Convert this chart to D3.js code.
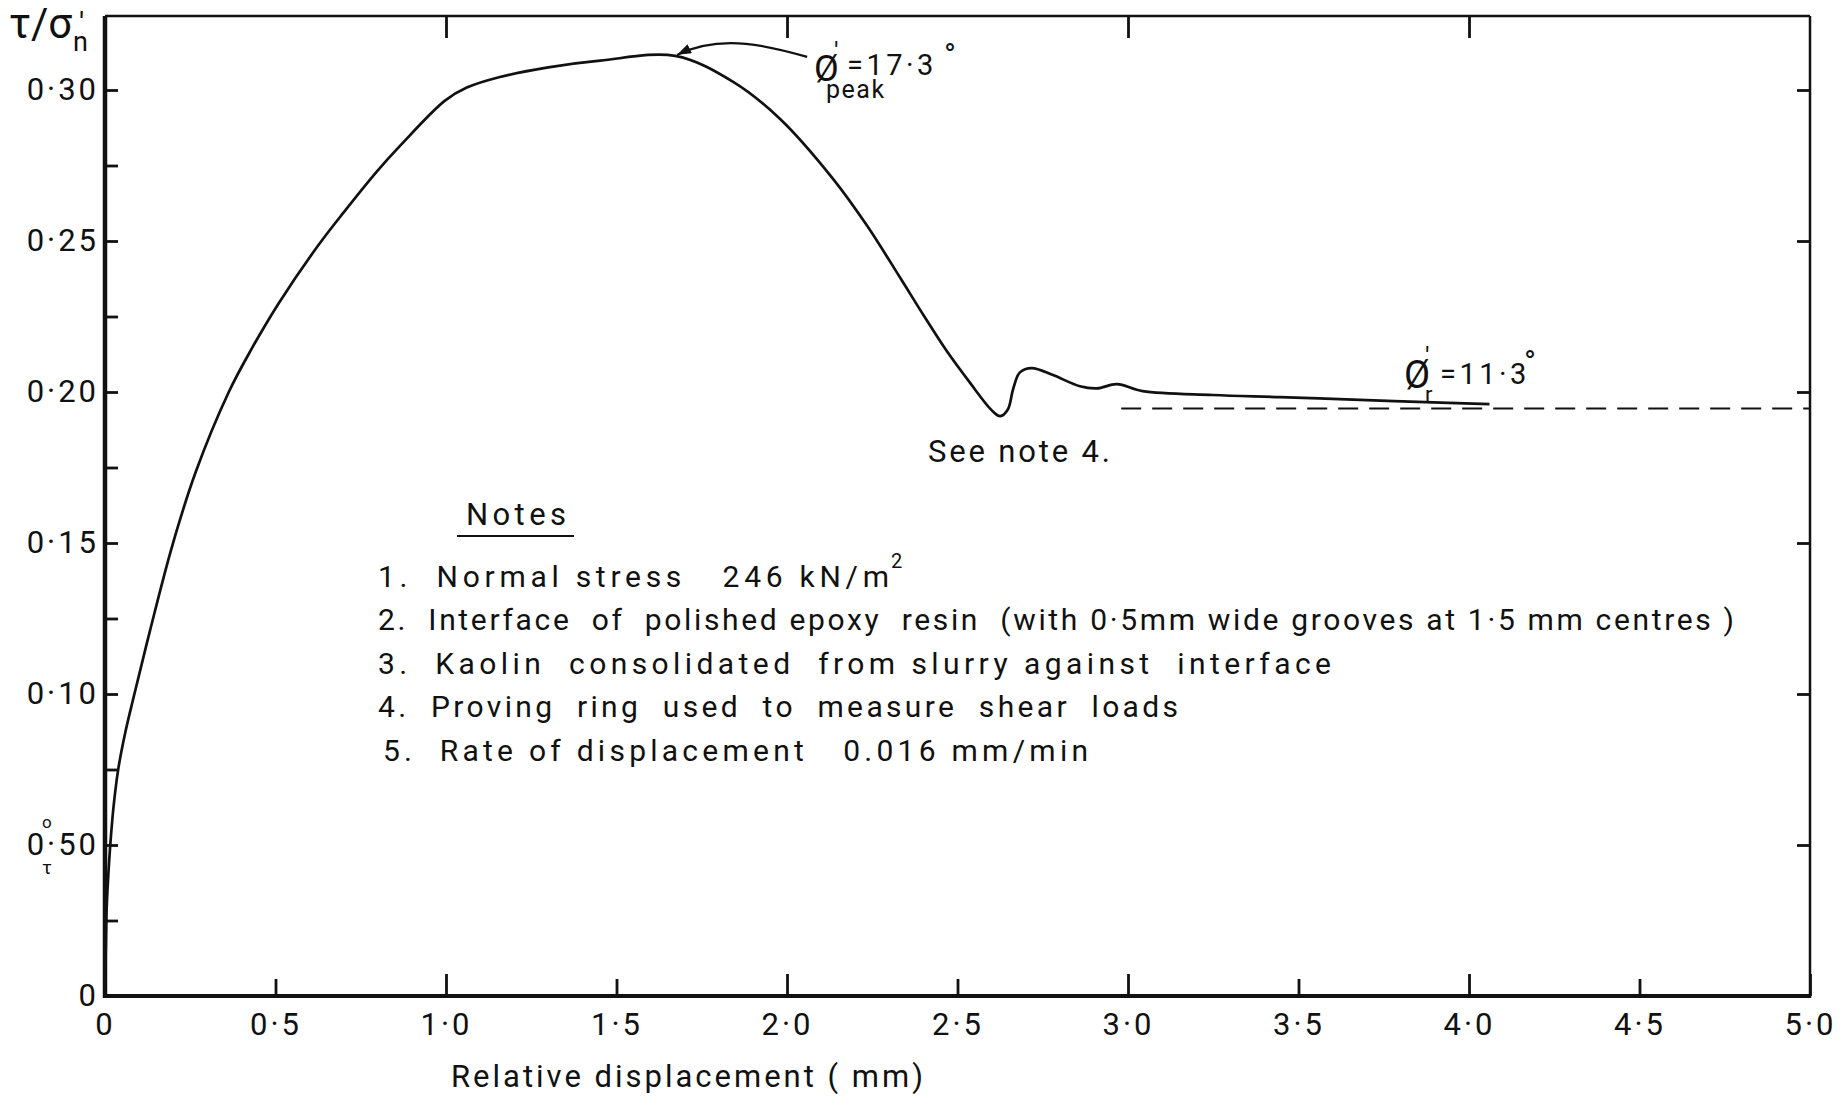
<!DOCTYPE html>
<html>
<head>
<meta charset="utf-8">
<script src="https://cdn.jsdelivr.net/npm/d3@7"></script>
<style>
  html, body { margin: 0; padding: 0; background: #fff; }
  svg text { font-family: Roboto, "DejaVu Sans", sans-serif; fill: #111; white-space: pre; }
  .tick text { font-size: 31px; letter-spacing: 3px; }
  .tick line { stroke: #111; stroke-width: 2.8; }
  .domain { display: none; }
</style>
</head>
<body>
<svg id="chart"></svg>
<script>
// values
const xTicks = [0, 0.5, 1, 1.5, 2, 2.5, 3, 3.5, 4, 4.5, 5];
const xTickLabels = ['0', '0·5', '1·0', '1·5', '2·0', '2·5', '3·0', '3·5', '4·0', '4·5', '5·0'];
const yTicks = [0, 0.05, 0.10, 0.15, 0.20, 0.25, 0.30];
const yTickLabels = ['0', '0·50', '0·10', '0·15', '0·20', '0·25', '0·30'];
const yMinorTicks = [0.025, 0.075, 0.125, 0.175, 0.225, 0.275];
const topTicks = [1, 2, 3, 4];

// relative displacement (mm) and tau / sigma'n
const displacement = [
  0, 0.003, 0.005, 0.01, 0.015, 0.025, 0.039, 0.059, 0.083, 0.132,
  0.197, 0.266, 0.363, 0.431, 0.51, 0.625, 0.70, 0.797, 0.865, 0.997,
  1.061, 1.158, 1.30, 1.452, 1.672, 1.842, 1.979, 2.135, 2.234, 2.331,
  2.40, 2.467, 2.537, 2.60, 2.625, 2.648, 2.663, 2.683, 2.718, 2.78,
  2.859, 2.909, 2.967, 3.043, 3.249, 3.446, 3.70, 3.85, 4.06
];
const stressRatio = [
  0, 0.02, 0.0295, 0.0407, 0.0493, 0.0626, 0.0752, 0.087, 0.0985, 0.121,
  0.149, 0.1735, 0.200, 0.2145, 0.2295, 0.2485, 0.2595, 0.273, 0.2815, 0.2965,
  0.3008, 0.3043, 0.3075, 0.3097, 0.3113, 0.3027, 0.2905, 0.2706, 0.2552, 0.238,
  0.2255, 0.2138, 0.203, 0.194, 0.192, 0.1943, 0.2009, 0.2065, 0.2079, 0.2056,
  0.2019, 0.2012, 0.2026, 0.2003, 0.199, 0.1983, 0.1973, 0.1967, 0.196
];

// dashed residual line
const residualRange = [2.98, 5.0];
const residualLevel = 0.1945;
const peakPoint = [1.672, 0.3113];

const notesTitle = 'Notes';
const notes = [
  '1.  Normal stress   246 kN/m',
  '2.  Interface  of  polished epoxy  resin  (with 0·5mm wide grooves at 1·5 mm centres )',
  '3.  Kaolin  consolidated  from slurry against  interface',
  '4.  Proving  ring  used  to  measure  shear  loads',
  '5.  Rate of displacement   0.016 mm/min'
];

(function() {
  const W = 1842, H = 1106;
  const yTop = 16;
  const svg = d3.select('#chart').attr('width', W).attr('height', H);

  const x = d3.scaleLinear().domain([0, 5]).range([105, 1810]);
  const y = d3.scaleLinear().domain([0, 0.3]).range([996, 90]);

  // frame: thick left/bottom, thin top/right
  const frame = svg.append('g').attr('stroke', '#111').attr('fill', 'none');
  frame.append('line').attr('x1', x(0)).attr('x2', x(0)).attr('y1', y(0) + 2).attr('y2', yTop)
    .attr('stroke-width', 4.5);
  frame.append('line').attr('x1', x(0)).attr('x2', x(5)).attr('y1', y(0)).attr('y2', y(0))
    .attr('stroke-width', 4);
  frame.append('line').attr('x1', x(0)).attr('x2', x(5)).attr('y1', yTop).attr('y2', yTop)
    .attr('stroke-width', 2.5);
  frame.append('line').attr('x1', x(5)).attr('x2', x(5)).attr('y1', yTop).attr('y2', y(0) + 2)
    .attr('stroke-width', 2.5);

  // bottom axis
  const gx = svg.append('g')
    .attr('transform', `translate(0,${y(0)})`)
    .call(d3.axisBottom(x)
      .tickValues(xTicks)
      .tickSizeInner(-17).tickSizeOuter(0).tickPadding(17)
      .tickFormat((d, i) => xTickLabels[i]));
  gx.selectAll('.tick line').attr('y2', d => Number.isInteger(d) ? -22 : -17);
  gx.selectAll('.tick text').attr('font-size', null);

  // left axis, labels only at every 0.05
  const yAll = yTicks.concat(yMinorTicks).sort((a, b) => a - b);
  svg.append('g')
    .attr('transform', `translate(${x(0)},0)`)
    .call(d3.axisLeft(y)
      .tickValues(yAll)
      .tickSizeInner(-13).tickSizeOuter(0).tickPadding(6)
      .tickFormat(d => {
        const i = yTicks.findIndex(v => Math.abs(v - d) < 1e-9);
        return i < 0 ? '' : yTickLabels[i];
      }));

  // top and right inner ticks
  svg.append('g')
    .attr('transform', `translate(0,${yTop})`)
    .call(d3.axisTop(x).tickValues(topTicks).tickSizeInner(-22).tickSizeOuter(0).tickFormat(''));
  svg.append('g')
    .attr('transform', `translate(${x(5)},0)`)
    .call(d3.axisRight(y).tickValues(yTicks.slice(1)).tickSizeInner(-13).tickSizeOuter(0).tickFormat(''));

  // stray marks round the 0.05 label
  svg.append('text').attr('x', 42).attr('y', 828).attr('font-size', 17).text('o');
  svg.append('text').attr('x', 42).attr('y', 874).attr('font-size', 19).text('τ');

  // curve
  const pts = displacement.map((d, i) => [d, stressRatio[i]]);
  svg.append('path')
    .datum(pts)
    .attr('fill', 'none')
    .attr('stroke', '#111')
    .attr('stroke-width', 2.7)
    .attr('stroke-linejoin', 'round')
    .attr('d', d3.line().x(d => x(d[0])).y(d => y(d[1])).curve(d3.curveCatmullRom.alpha(0.5)));

  // residual dashed line
  svg.append('line')
    .attr('x1', x(residualRange[0])).attr('x2', x(residualRange[1]))
    .attr('y1', y(residualLevel)).attr('y2', y(residualLevel))
    .attr('stroke', '#111').attr('stroke-width', 2)
    .attr('stroke-dasharray', '20,11');

  // arrow to peak
  svg.append('defs').append('marker')
    .attr('id', 'head').attr('viewBox', '0 0 14 10')
    .attr('refX', 14).attr('refY', 5)
    .attr('markerWidth', 14).attr('markerHeight', 10)
    .attr('markerUnits', 'userSpaceOnUse').attr('orient', 'auto')
    .append('path').attr('d', 'M0,0 L14,5 L0,10 Z').attr('fill', '#111');
  const tx = x(peakPoint[0]) + 2, ty = y(peakPoint[1]) - 1;
  svg.append('path')
    .attr('d', `M${tx + 130},${ty + 2} C${tx + 95},${ty - 8} ${tx + 45},${ty - 22} ${tx},${ty}`)
    .attr('fill', 'none').attr('stroke', '#111').attr('stroke-width', 2.2)
    .attr('marker-end', 'url(#head)');

  // peak label, one text with positioned parts
  const pk = svg.append('text');
  pk.append('tspan').attr('x', 814).attr('y', 81).attr('font-size', 36).text('Ø');
  pk.append('tspan').attr('x', 834).attr('y', 60).attr('font-size', 26).text("'");
  pk.append('tspan').attr('x', 847).attr('y', 75).attr('font-size', 29)
    .attr('letter-spacing', 3.5).text('=17·3');
  pk.append('tspan').attr('x', 944).attr('y', 66).attr('font-size', 32).text('°');
  pk.append('tspan').attr('x', 826).attr('y', 98).attr('font-size', 25)
    .attr('letter-spacing', 1.5).text('peak');

  // residual label
  const rs = svg.append('text');
  rs.append('tspan').attr('x', 1404).attr('y', 388).attr('font-size', 38).text('Ø');
  rs.append('tspan').attr('x', 1425).attr('y', 365).attr('font-size', 26).text("'");
  rs.append('tspan').attr('x', 1425).attr('y', 402).attr('font-size', 22).text('r');
  rs.append('tspan').attr('x', 1440).attr('y', 384).attr('font-size', 29)
    .attr('letter-spacing', 3.5).text('=11·3');
  rs.append('tspan').attr('x', 1524).attr('y', 373).attr('font-size', 32).text('°');

  svg.append('text').attr('x', 928).attr('y', 462).attr('font-size', 31)
    .attr('textLength', 182).attr('lengthAdjust', 'spacing').text('See note 4.');

  // notes block
  svg.append('text').attr('x', 466).attr('y', 525).attr('font-size', 31)
    .attr('textLength', 100).attr('lengthAdjust', 'spacing').text(notesTitle);
  svg.append('line').attr('x1', 457).attr('x2', 574).attr('y1', 536).attr('y2', 536)
    .attr('stroke', '#111').attr('stroke-width', 2);

  const noteX = [378, 378, 378, 378, 383];
  const noteEnd = [889, 1734, 1331, 1178, 1088];
  svg.append('g').selectAll('text').data(notes).enter().append('text')
    .attr('x', (d, i) => noteX[i])
    .attr('y', (d, i) => 587 + i * 43.4)
    .attr('font-size', 30)
    .attr('textLength', (d, i) => noteEnd[i] - noteX[i])
    .attr('lengthAdjust', 'spacing')
    .text(d => d);
  svg.append('text').attr('x', 891).attr('y', 568).attr('font-size', 20).text('2');

  // axis titles
  svg.append('text').attr('x', 451).attr('y', 1087).attr('font-size', 31)
    .attr('textLength', 472).attr('lengthAdjust', 'spacing').text('Relative displacement ( mm)');

  const yt = svg.append('text').attr('font-size', 42);
  yt.append('tspan').attr('x', 9).attr('y', 38).text('τ/σ');
  yt.append('tspan').attr('x', 73).attr('y', 51).attr('font-size', 27).text('n');
  yt.append('tspan').attr('x', 79).attr('y', 33).attr('font-size', 30).text("'");
})();
</script>
</body>
</html>
